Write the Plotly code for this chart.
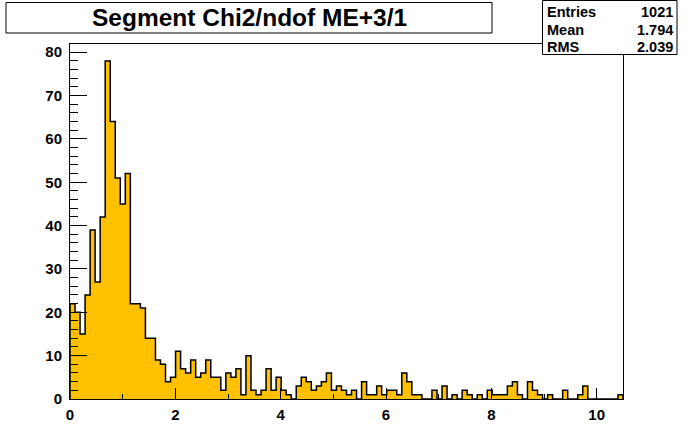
import numpy as np
import plotly.graph_objects as go

# histogram contents, 110 bins between 0 and 10.5
counts = [22, 20, 15, 24, 39, 27, 42, 78, 64, 51,
          45, 52, 22, 22, 21, 14, 14, 9, 8, 4,
          5, 11, 7, 6, 9, 5, 6, 9, 5, 5,
          2, 6, 5, 7, 1, 10, 2, 1, 2, 7,
          2, 5, 2, 1, 0, 3, 5, 4, 2, 3,
          4, 6, 2, 3, 2, 1, 2, 0, 4, 1,
          1, 3, 1, 2, 2, 1, 6, 4, 1, 1,
          0, 0, 2, 0, 3, 0, 1, 0, 2, 1,
          0, 1, 0, 2, 1, 1, 1, 3, 4, 1,
          0, 4, 2, 1, 0, 1, 0, 0, 2, 0,
          0, 1, 3, 0, 0, 0, 0, 0, 0, 1]
x_min, x_max = 0.0, 10.5
title = "Segment Chi2/ndof ME+3/1"
stat_names = ["Entries", "Mean", "RMS"]
stat_values = ["1021", "1.794", "2.039"]

edges = np.linspace(x_min, x_max, len(counts) + 1)
xs = np.concatenate([[edges[0]], edges, [edges[-1]]])
ys = np.concatenate([[0], counts, [0]])

W, H = 692, 444
L, R, T, B = 70, 69, 44, 45
PW, PH = W - L - R, H - T - B


def px(x):
    return (x - L) / PW


def py(y):
    return (H - B - y) / PH


fig = go.Figure()
fig.add_trace(go.Scatter(
    x=xs, y=ys, mode="lines", line=dict(color="black", width=1.5, shape="hv"),
    fill="tozeroy", fillcolor="#FFC000", hoverinfo="skip"))

font = dict(family="Liberation Sans, Arial, sans-serif", color="black", weight="bold")

fig.update_layout(
    width=W, height=H, margin=dict(l=L, r=R, t=T, b=B),
    paper_bgcolor="white", plot_bgcolor="white", showlegend=False,
    font=dict(font, size=15),
)
fig.update_xaxes(range=[x_min, x_max], showgrid=False, zeroline=False,
                 showline=True, linecolor="black", linewidth=1, mirror=True,
                 ticks="inside", ticklen=11, tickcolor="black", tickwidth=1,
                 dtick=2, tick0=0, ticklabelstandoff=2,
                 minor=dict(ticks="inside", dtick=1, ticklen=5, tickcolor="black"))
fig.update_yaxes(range=[0, max(counts) * 1.05], showgrid=False, zeroline=False,
                 showline=True, linecolor="black", linewidth=1, mirror=True,
                 ticks="inside", ticklen=17, tickcolor="black", tickwidth=1,
                 dtick=10, tick0=0, ticklabelstandoff=4,
                 minor=dict(ticks="inside", dtick=2, ticklen=8, tickcolor="black"))

# title box
fig.add_shape(type="rect", xref="paper", yref="paper",
              x0=px(6), x1=px(492), y0=py(33), y1=py(2.5),
              line=dict(color="black", width=1), fillcolor="white")
fig.add_annotation(text=title, xref="paper", yref="paper",
                   x=px(249), y=py(17.5), xanchor="center", yanchor="middle",
                   showarrow=False, font=dict(font, size=24.5))

# stats box
fig.add_shape(type="rect", xref="paper", yref="paper",
              x0=px(542.5), x1=px(677), y0=py(54.5), y1=py(0.5),
              line=dict(color="black", width=1), fillcolor="white")
for i, (n, v) in enumerate(zip(stat_names, stat_values)):
    yy = py(12.5 + i * 17)
    fig.add_annotation(text=n, xref="paper", yref="paper", x=px(545), y=yy,
                       xanchor="left", yanchor="middle", showarrow=False,
                       font=dict(font, size=14.5))
    fig.add_annotation(text=v, xref="paper", yref="paper", x=px(674.5), y=yy,
                       xanchor="right", yanchor="middle", showarrow=False,
                       font=dict(font, size=14.5))

fig.write_html("out.html", config={"displayModeBar": False},
               post_script="document.body.style.margin='0';")
